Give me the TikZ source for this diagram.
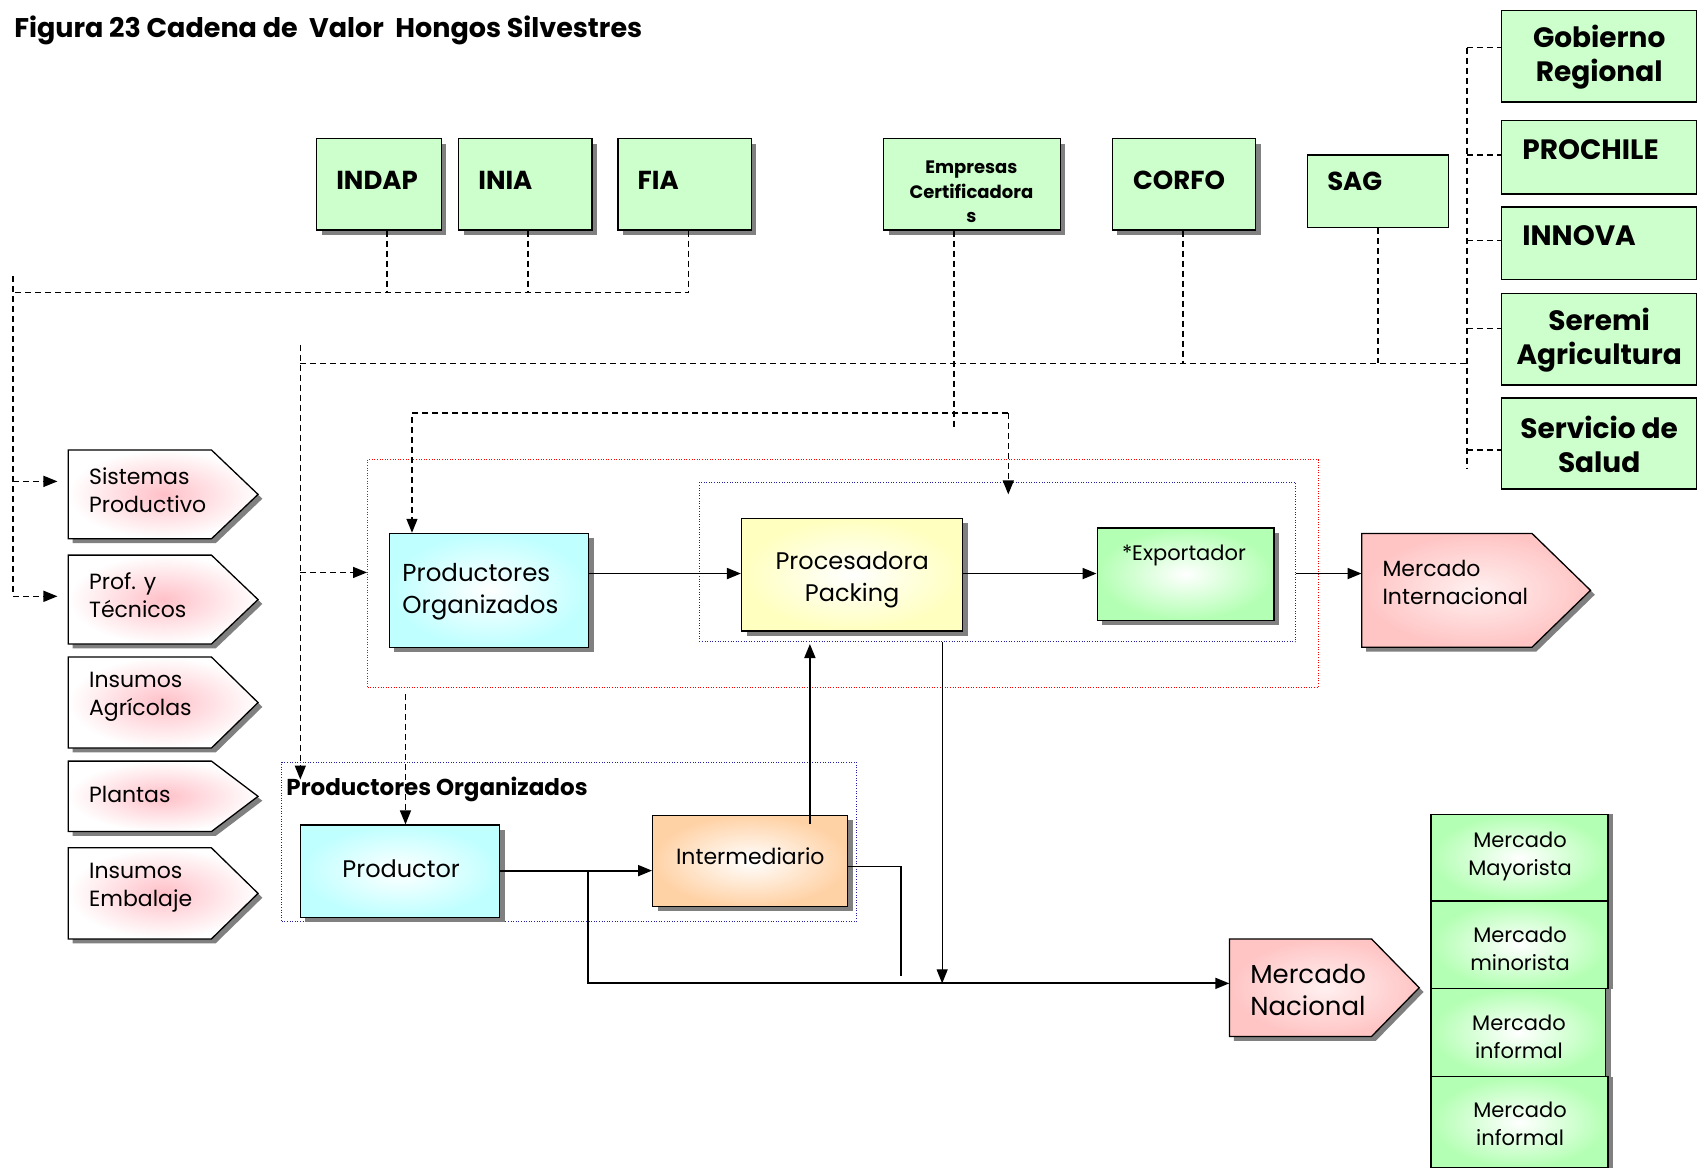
\documentclass[tikz,border=0pt]{standalone}
\usepackage{fontspec}
\setmainfont{Poppins}
\usetikzlibrary{arrows.meta,shadows,fit,calc}
\definecolor{boxgreen}{HTML}{CCFFCC}
\definecolor{cyanout}{HTML}{BFFFFF}
\definecolor{yellowout}{HTML}{FFFFBF}
\definecolor{peachout}{HTML}{FFD2A6}
\definecolor{greenout}{HTML}{B3FFB3}
\definecolor{pinkout}{HTML}{FFC4C4}
\definecolor{pinkglow}{HTML}{FFC0C8}
\definecolor{dotblue}{HTML}{2020A0}
\newcommand\myfs[2]{\fontsize{#1}{#2}\selectfont}
\newcommand\penta[7]{%
  \node[fit={(#2,#3)(#4,#6)}, inner sep=0pt] (#1) {};
  \fill[black!50, shift={(4,4)}] (#2,#3) -- (#4,#3) -- (#5,{(#3+#6)/2}) -- (#4,#6) -- (#2,#6) -- cycle;
  \path[draw, line width=1.3pt, #7] (#2,#3) -- (#4,#3) -- (#5,{(#3+#6)/2}) -- (#4,#6) -- (#2,#6) -- cycle;
}
\begin{document}
\begin{tikzpicture}[x=1.0842pt,y=-1.0842pt,
  shad/.style={drop shadow={shadow xshift=5pt,shadow yshift=-5pt,fill=black!50,opacity=1}},
  gbox/.style={draw, line width=1.3pt, fill=boxgreen, inner sep=0pt},
  gboxS/.style={gbox, shad},
  sbox/.style={draw, line width=1.3pt, inner sep=0pt, shad, inner color=white, outer color=#1},
  mbox/.style={draw, line width=1.3pt, inner sep=0pt, inner color=white, outer color=greenout,
     drop shadow={shadow xshift=5pt,shadow yshift=0pt,fill=black!50,opacity=1}},
  mtxt/.style={inner sep=0pt, align=center, font=\myfs{21}{28}},
  blbl/.style={font=\bfseries\myfs{26}{30}, inner sep=0pt},
  rlbl/.style={font=\bfseries\myfs{28}{34}, inner sep=0pt, align=center},
  plbl/.style={font=\myfs{22}{28}, inner sep=0pt, align=left, anchor=west},
  dsh/.style={line width=1.4pt, dash pattern=on 6pt off 4pt},
  con/.style={line width=1.8pt},
  arr/.style={-{Triangle[length=14pt,width=11pt]}},
  dotbox/.style={draw, line width=1pt, dash pattern=on 1pt off 1.6pt, inner sep=0pt}
]
\useasboundingbox (0,0) rectangle (1568,1080);

% title
\node[anchor=west, inner sep=0pt, font=\bfseries\myfs{27}{30}] (title) at (13,28) {Figura 23 Cadena de \ Valor \ Hongos Silvestres};

% top boxes
\node[gboxS, fit={(292,128)(407,212)}] (indap) {};
\node[blbl, anchor=west] (indapT) at (310,166) {INDAP};
\node[gboxS, fit={(423,128)(546,212)}] (inia) {};
\node[blbl, anchor=west] (iniaT) at (441,166) {INIA};
\node[gboxS, fit={(570,128)(693,212)}] (fia) {};
\node[blbl, anchor=west] (fiaT) at (588,166) {FIA};
\node[gboxS, fit={(815,128)(978,212)}] (emp) {};
\node[inner sep=0pt, align=center, font=\bfseries\myfs{18}{24.5}] (empT) at (896,177) {Empresas\\Certificadora\\s};
\node[gboxS, fit={(1026,128)(1158,212)}] (corfo) {};
\node[blbl, anchor=west] (corfoT) at (1045,166) {CORFO};
\node[gbox, fit={(1206,143)(1336,210)}] (sag) {};
\node[blbl, anchor=west] (sagT) at (1224,167) {SAG};

% right column
\node[gbox, fit={(1385,10)(1565,94)}] (gob) {};
\node[rlbl] (gobT) at (1475,53) {Gobierno\\Regional};
\node[gbox, fit={(1385,111)(1565,179)}] (pro) {};
\node[rlbl, anchor=west] (proT) at (1404,138) {PROCHILE};
\node[gbox, fit={(1385,191)(1565,258)}] (inn) {};
\node[rlbl, anchor=west] (innT) at (1404,217) {INNOVA};
\node[gbox, fit={(1385,271)(1565,355)}] (ser) {};
\node[rlbl] (serT) at (1475,314) {Seremi\\Agricultura};
\node[gbox, fit={(1385,367)(1565,451)}] (sal) {};
\node[rlbl] (salT) at (1475,410) {Servicio de\\Salud};

% left pentagons
\penta{sist}{63}{415}{195}{238}{497}{inner color=pinkglow, outer color=white}
\node[plbl] (sistT) at (82,452) {Sistemas\\Productivo};
\penta{prof}{63}{512}{195}{238}{594}{inner color=pinkglow, outer color=white}
\node[plbl] (profT) at (82,549) {Prof. y\\Técnicos};
\penta{insa}{63}{606}{195}{238}{690}{inner color=pinkglow, outer color=white}
\node[plbl] (insaT) at (82,643) {Insumos\\Agrícolas};
\penta{plan}{63}{702}{195}{238}{767}{inner color=pinkglow, outer color=white}
\node[plbl] (planT) at (82,733) {Plantas};
\penta{inse}{63}{782}{195}{238}{866}{inner color=pinkglow, outer color=white}
\node[plbl] (inseT) at (82,819) {Insumos\\Embalaje};

% market pentagons
\penta{mint}{1256}{492}{1413}{1467}{597}{inner color=pinkout!25!white, outer color=pinkout}
\node[plbl] (mintT) at (1275,537) {Mercado\\Internacional};
\penta{mnac}{1134}{866}{1265}{1309}{956}{inner color=pinkout!25!white, outer color=pinkout}
\node[plbl, font=\myfs{26}{31.5}] (mnacT) at (1153,913) {Mercado\\Nacional};

% dotted group boxes
\node[dotbox, red, fit={(339,424)(1216,634)}] (redbox) {};
\node[dotbox, dotblue, fit={(645,445)(1195,592)}] (bluebox) {};
\node[dotbox, dotblue, fit={(260,703)(790,850)}] (bluebox2) {};
\node[anchor=west, inner sep=0pt, font=\bfseries\myfs{23}{28}] (grpT) at (264,728) {Productores Organizados};

% main chain
\node[sbox=cyanout, fit={(359,492)(543,597)}] (prodorg) {};
\node[plbl, font=\myfs{24.5}{31.5}] (prodorgT) at (371,546) {Productores\\Organizados};
\node[sbox=yellowout, fit={(684,478)(888,582)}] (proc) {};
\node[inner sep=0pt, align=center, font=\myfs{24}{32.5}] (procT) at (786,535) {Procesadora\\Packing};
\node[sbox=greenout, fit={(1012,487)(1175,572)}] (exp) {};
\node[inner sep=0pt, font=\myfs{21}{26}] (expT) at (1092,512) {*Exportador};
\node[sbox=cyanout, fit={(277,761)(461,846)}] (prodr) {};
\node[inner sep=0pt, font=\myfs{24}{30}] (prodrT) at (370,801) {Productor};
\node[sbox=peachout, fit={(602,752)(782,836)}] (inter) {};
\node[inner sep=0pt, font=\myfs{22}{28}] (interT) at (692,790) {Intermediario};

% market boxes
\node[mbox, fit={(1320,751)(1483,831)}] (m1) {};
\node[mtxt] (m1T) at (1402,790) {Mercado\\Mayorista};
\node[mbox, fit={(1320,831)(1483,912)}] (m2) {};
\node[mtxt] (m2T) at (1402,875) {Mercado\\minorista};
\node[mbox, fit={(1320,912)(1481,993)}] (m3) {};
\node[mtxt] (m3T) at (1401,956) {Mercado\\informal};
\node[mbox, fit={(1320,993)(1483,1077)}] (m4) {};
\node[mtxt] (m4T) at (1402,1037) {Mercado\\informal};

% ---- dashed connectors
\coordinate (tl) at (12,255);
\coordinate (bl) at (12,550);
\coordinate (a1) at (12,444);
\coordinate (a1e) at (53,444);
\coordinate (a2e) at (53,550);
\coordinate (busL) at (12,270);
\coordinate (busR) at (635,270);
\draw[dsh] (indap.south -| 357,0) -- (357,270);
\draw[dsh] (inia.south -| 487,0) -- (487,270);
\draw[dsh] (fia.south -| 635,0) -- (busR) -- (busL);
\draw[dsh] (tl) -- (bl);
\draw[dsh, arr] (a1) -- (a1e);
\draw[dsh, arr] (bl) -- (a2e);

\coordinate (b2L) at (277,335);
\coordinate (b2R) at (1353,335);
\coordinate (rvT) at (1353,44);
\coordinate (rvB) at (1353,432);
\draw[dsh] (corfo.south -| 1091,0) -- (1091,335);
\draw[dsh] (sag.south -| 1271,0) -- (1271,335);
\draw[dsh] (b2L) -- (b2R);
\draw[dsh] (rvT) -- (rvB);
\draw[dsh] (rvT) -- (gob.west |- rvT);
\draw[dsh] (1353,143) -- (pro.west |- 0,143);
\draw[dsh] (1353,222) -- (inn.west |- 0,222);
\draw[dsh] (1353,303) -- (ser.west |- 0,303);
\draw[dsh] (1353,415) -- (sal.west |- 0,415);

\coordinate (v277T) at (277,318);
\coordinate (v277B) at (277,719);
\coordinate (v277M) at (277,528);
\draw[dsh, arr] (v277T) -- (v277B);
\draw[dsh, arr] (v277M) -- (redbox.west |- v277M);

\coordinate (eB) at (880,397);
\coordinate (hL3) at (380,381);
\coordinate (hR3) at (930,381);
\coordinate (hR3e) at (930,456);
\draw[dsh] (emp.south -| eB) -- (eB);
\draw[dsh, arr] (hR3e |- hL3) -- (hL3) -- (prodorg.north -| hL3);
\draw[dsh, arr] (hR3) -- (hR3e);

\coordinate (p374) at (374,640);
\draw[dsh, arr] (p374) -- (prodr.north -| p374);

% ---- solid connectors
\draw[con, arr] (prodorg.east |- 0,529) -- (proc.west |- 0,529);
\draw[con, arr] (proc.east |- 0,529) -- (exp.west |- 0,529);
\draw[con, arr] (bluebox.east |- 0,529) -- (mint.west |- 0,529);
\coordinate (iu) at (747,760);
\draw[con, arr] (iu) -- (747,594);
\coordinate (bbx) at (869,592);
\coordinate (bby) at (869,907);
\draw[line width=1.2pt, arr] (bbx) -- (bby);
\draw[con, arr] (prodr.east |- 0,803) -- (inter.west |- 0,803);
\coordinate (br) at (542,803);
\draw[con, arr] (br) -- (542,907) -- (mnac.west |- 0,907);
\coordinate (ie) at (831,900);
\draw[line width=1.3pt] (inter.east |- 0,799) -- (831,799) -- (ie);
\end{tikzpicture}
\end{document}
